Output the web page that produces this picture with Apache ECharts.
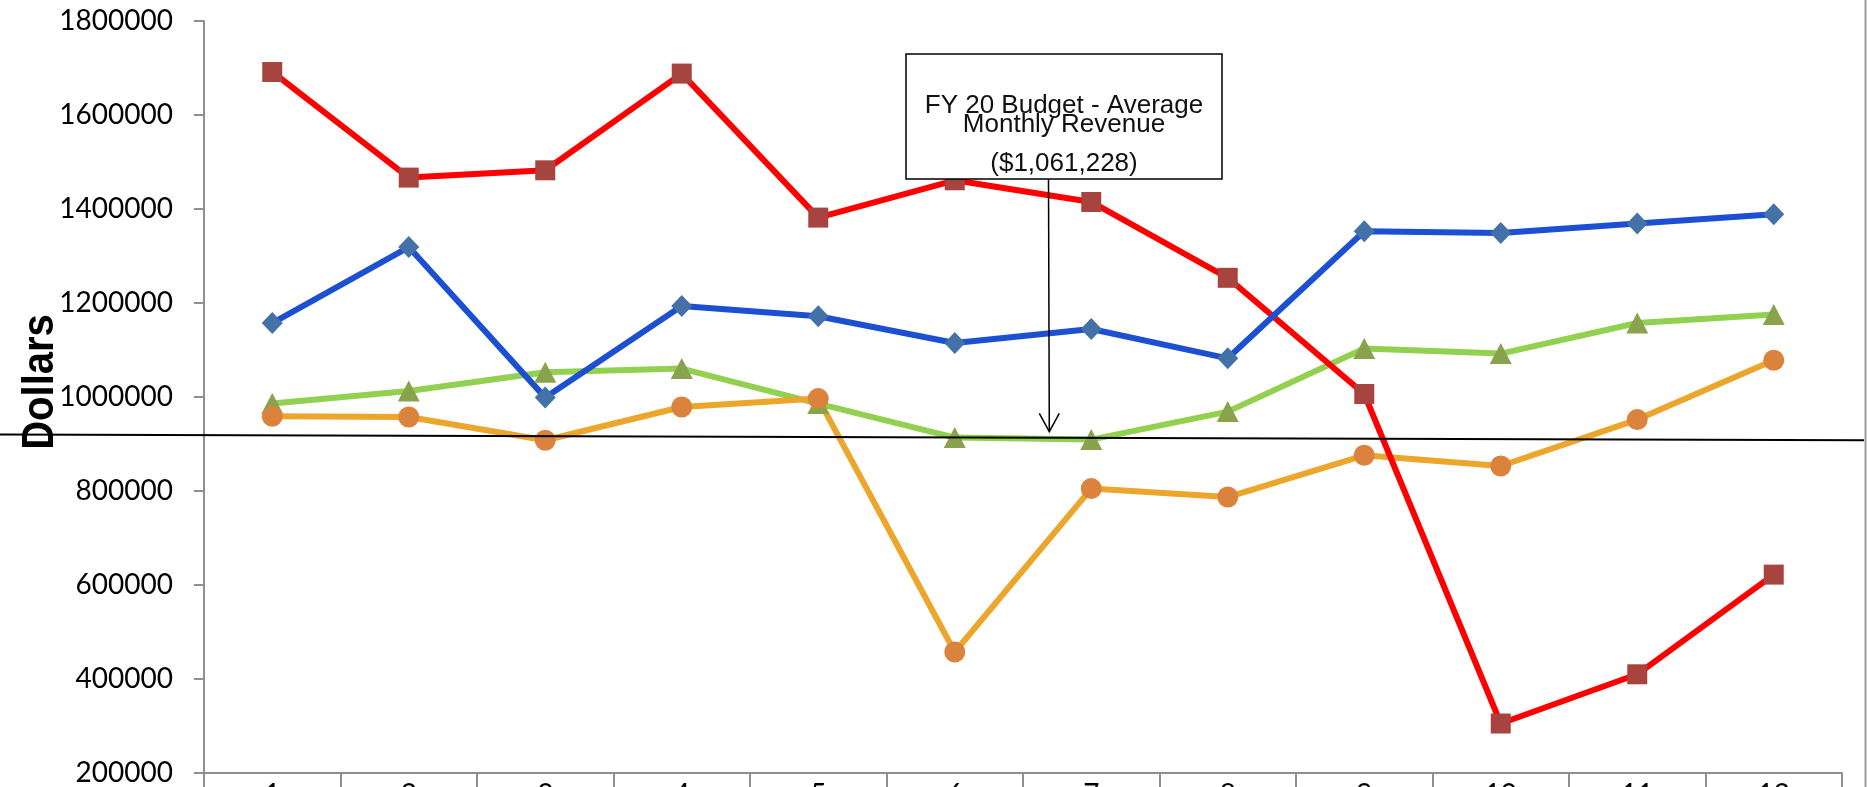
<!DOCTYPE html>
<html>
<head>
<meta charset="utf-8">
<script src="https://cdn.jsdelivr.net/npm/echarts@6/dist/echarts.min.js"></script>
<style>
  html, body { margin: 0; padding: 0; background: #fff; }
  #chart { width: 1868px; height: 787px; }
</style>
</head>
<body>
<div id="chart"></div>
<script>
// Months of the fiscal year
const months = ['1', '2', '3', '4', '5', '6', '7', '8', '9', '10', '11', '12'];

// Monthly revenue, one list per year (dollars)
const blueValues   = [1157400, 1319100, 998700, 1193600, 1171700, 1114900, 1144700, 1082300, 1352600, 1348900, 1368900, 1388700];
const redValues    = [1691500, 1466800, 1482300, 1688100, 1381700, 1461100, 1414900, 1253600, 1006400, 305300, 410000, 622100];
const greenValues  = [986000, 1012800, 1052600, 1060400, 986000, 913600, 909400, 968900, 1103000, 1092300, 1157400, 1175300];
const orangeValues = [958900, 957400, 908000, 978700, 996600, 457400, 805100, 787200, 876000, 853200, 951900, 1078100];

// Value axis ticks
const yMin = 200000;
const yMax = 1800000;
const yStep = 200000;

// Axis title and callout text
const yTitle = 'Dollars';
const calloutLines = ['FY 20 Budget - Average', 'Monthly Revenue', '($1,061,228)'];

const axisGray = '#8f8f8f';
const labelFont = { fontFamily: 'Lato', fontSize: 28, color: '#000' };

function lineSeries(name, data, lineColor, symbol, symbolSize, markerColor) {
  return {
    name: name,
    type: 'line',
    data: data,
    symbol: symbol,
    symbolSize: symbolSize,
    showAllSymbol: true,
    lineStyle: { color: lineColor, width: 6 },
    itemStyle: { color: markerColor, borderWidth: 0 },
    emphasis: { disabled: true },
    animation: false
  };
}

const chart = echarts.init(document.getElementById('chart'), null, { renderer: 'canvas' });

chart.setOption({
  backgroundColor: '#ffffff',
  animation: false,
  grid: { left: 204, right: 26, top: 21, bottom: 14, containLabel: false, outerBoundsMode: 'none' },
  xAxis: {
    type: 'category',
    data: months,
    boundaryGap: true,
    axisLine: { show: true, lineStyle: { color: axisGray, width: 2 } },
    axisTick: { show: true, alignWithLabel: false, length: 30, lineStyle: { color: axisGray, width: 2 } },
    axisLabel: Object.assign({ margin: 8, interval: 0 }, labelFont),
    splitLine: { show: false }
  },
  yAxis: {
    type: 'value',
    min: yMin,
    max: yMax,
    interval: yStep,
    axisLine: { show: true, lineStyle: { color: axisGray, width: 2 } },
    axisTick: { show: true, inside: false, length: 10, lineStyle: { color: axisGray, width: 2 } },
    axisLabel: Object.assign({ margin: 31, formatter: function (v) { return String(v); } }, labelFont),
    splitLine: { show: false }
  },
  series: [
    lineSeries('Green', greenValues, '#92D050', 'triangle', [22, 21], '#88A34B'),
    lineSeries('Orange', orangeValues, '#EBA62B', 'circle', 21, '#DB833D'),
    lineSeries('Red', redValues, '#FF0000', 'rect', 20, '#A84440'),
    lineSeries('Blue', blueValues, '#1C4FD2', 'diamond', [21, 22], '#4472A8')
  ],
  graphic: [
    // value axis title, rotated
    { type: 'text', z: 5, x: 41, y: 382, rotation: Math.PI / 2, scaleX: 0.91,
      style: { text: yTitle, fill: '#000', font: 'bold 44px "Liberation Sans"', textAlign: 'center', textVerticalAlign: 'middle' } },
    // outer frame edge on the right
    { type: 'line', z: 10, shape: { x1: 1865.5, y1: 0, x2: 1865.5, y2: 787 },
      style: { stroke: '#9a9a9a', lineWidth: 2 } },
    // reference line across the chart
    { type: 'line', z: 20, shape: { x1: 0, y1: 434.5, x2: 1864, y2: 440.3 },
      style: { stroke: '#000', lineWidth: 2 } },
    // callout box
    { type: 'rect', z: 20, shape: { x: 906, y: 54, width: 316, height: 125 },
      style: { fill: '#fff', stroke: '#000', lineWidth: 1.5 } },
    { type: 'text', z: 21, x: 1064, y: 93,
      style: { text: calloutLines[0], fill: '#111', font: '26px "Liberation Sans"', textAlign: 'center', textVerticalAlign: 'alphabetic' } },
    { type: 'text', z: 21, x: 1064, y: 111.5,
      style: { text: calloutLines[1], fill: '#111', font: '26px "Liberation Sans"', textAlign: 'center', textVerticalAlign: 'alphabetic' } },
    { type: 'text', z: 21, x: 1064, y: 151,
      style: { text: calloutLines[2], fill: '#111', font: '26px "Liberation Sans"', textAlign: 'center', textVerticalAlign: 'alphabetic' } },
    // arrow from callout to the reference line
    { type: 'line', z: 20, shape: { x1: 1048.5, y1: 179, x2: 1049.3, y2: 431 },
      style: { stroke: '#000', lineWidth: 1.5 } },
    { type: 'polyline', z: 20, shape: { points: [[1039.3, 413.3], [1049.3, 431.7], [1059.3, 413.3]] },
      style: { stroke: '#000', lineWidth: 1.5, fill: null } }
  ]
});
</script>
</body>
</html>
